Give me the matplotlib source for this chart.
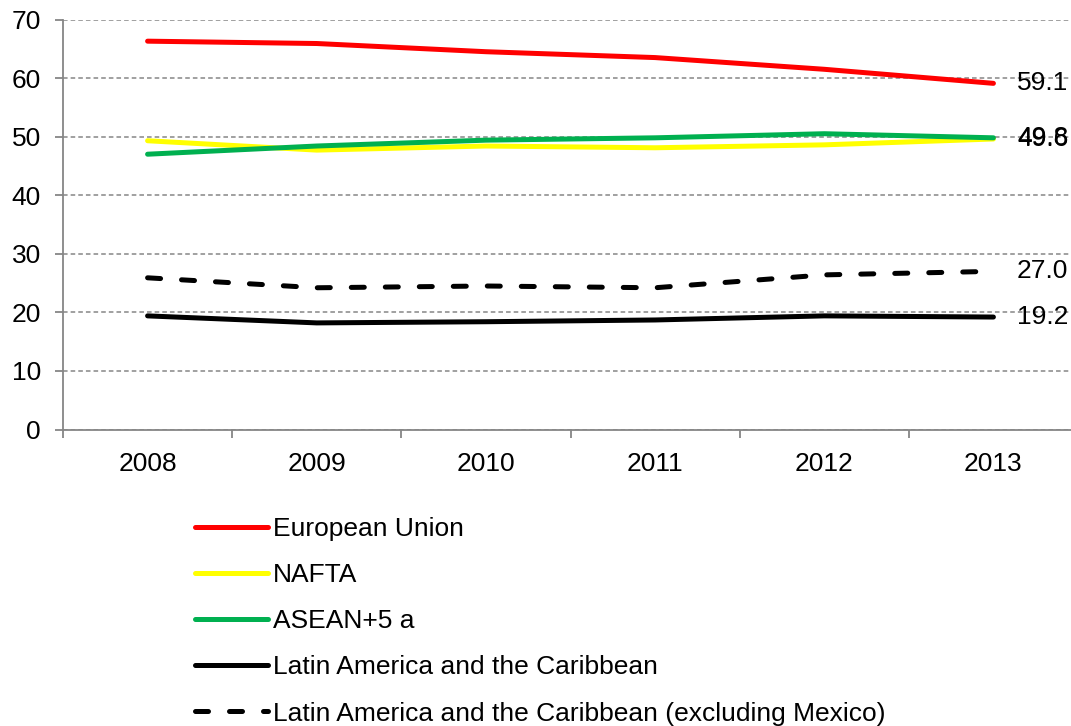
import matplotlib.pyplot as plt

plt.rcParams['font.family'] = ['Liberation Sans', 'DejaVu Sans']

# data
years = ['2008', '2009', '2010', '2011', '2012', '2013']
eu = [66.3, 65.9, 64.5, 63.5, 61.5, 59.1]
nafta = [49.3, 47.7, 48.4, 48.1, 48.6, 49.6]
asean = [47.0, 48.4, 49.4, 49.8, 50.5, 49.8]
lac = [19.4, 18.2, 18.4, 18.7, 19.4, 19.2]
lac_ex_mex = [25.9, 24.2, 24.5, 24.2, 26.4, 27.0]
end_labels = ['59.1', '49.6', '49.8', '19.2', '27.0']
names = ['European Union', 'NAFTA', 'ASEAN+5 a',
         'Latin America and the Caribbean',
         'Latin America and the Caribbean (excluding Mexico)']

FS = 19
GRAY = '#868686'

fig = plt.figure(figsize=(10.71, 7.26), dpi=100)
ax = fig.add_axes([63 / 1071, 1 - 429.5 / 726, 1015 / 1071, 410 / 726])

x = range(len(years))
series = [eu, nafta, asean, lac, lac_ex_mex]
colors = ['#ff0000', '#ffff00', '#00b050', '#000000', '#000000']
lw = 3.6
handles = []
for vals, col, name in zip(series, colors, names):
    ls = '-' if vals is not lac_ex_mex else (0, (2.6, 4.2))
    line, = ax.plot(x, vals, color=col, lw=lw, linestyle=ls,
                    solid_capstyle='round', dash_capstyle='round',
                    solid_joinstyle='round', label=name, zorder=3)
    handles.append(line)

# value labels next to the 2013 points
for vals, lab in zip(series, end_labels):
    ax.annotate(lab, (5, vals[-1]), xytext=(17, 0), textcoords='offset points',
                va='center', ha='left', fontsize=FS, color='black',
                annotation_clip=False)

ax.set_xlim(-0.5, 5.5)
ax.set_ylim(0, 70)
ax.set_yticks(range(0, 71, 10))
ax.set_xticks(x)
ax.set_xticklabels(years)
ax.set_xticks([i + 0.5 for i in range(-1, 6)], minor=True)
ax.tick_params(axis='x', which='major', length=0, pad=16, labelsize=FS)
ax.tick_params(axis='x', which='minor', length=5.5, color=GRAY, width=1.3)
ax.tick_params(axis='y', length=5.8, color=GRAY, width=1.3, pad=10, labelsize=FS)

ax.grid(axis='y', color=GRAY, linestyle=(0, (3, 2)), lw=1.1, zorder=0)
for s in ['top', 'right']:
    ax.spines[s].set_visible(False)
for s in ['left', 'bottom']:
    ax.spines[s].set_color(GRAY)
    ax.spines[s].set_linewidth(1.3)

fig.legend(handles=handles, loc='upper left',
           bbox_to_anchor=(195 / 1071, 1 - 517 / 726),
           frameon=False, fontsize=FS, handlelength=2.75,
           handletextpad=0.2, labelspacing=0.84, borderpad=0, borderaxespad=0)

fig.savefig('out.png', dpi=100)
